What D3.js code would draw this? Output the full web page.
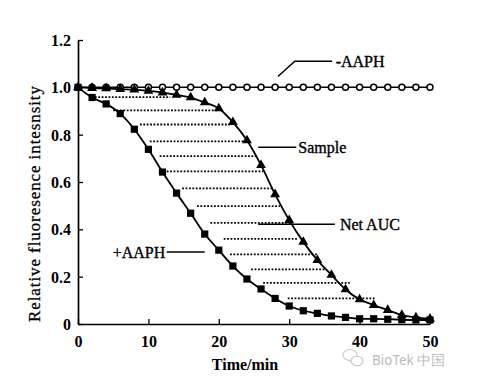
<!DOCTYPE html>
<html>
<head>
<meta charset="utf-8">
<script src="https://cdn.jsdelivr.net/npm/d3@7"></script>
<style>
  body { margin: 0; background: #fff; }
  text { font-family: "Liberation Serif", "Times New Roman", serif; fill: #000; }
</style>
</head>
<body>
<div id="chart"></div>
<script>
// time points, every 2 min
const times = d3.range(0, 51, 2)

// -AAPH : no decay
const noAaph = [1, 1, 1, 1, 1, 1, 1, 1, 1, 1, 1, 1, 1, 1, 1, 1, 1, 1, 1, 1, 1, 1, 1, 1, 1, 1]
// sample (triangles)
const sample = [1.0, 0.997, 0.995, 0.992, 0.99, 0.985, 0.978, 0.968, 0.957, 0.936, 0.911, 0.853, 0.776,
                0.671, 0.548, 0.439, 0.347, 0.27, 0.207, 0.146, 0.104, 0.08, 0.059, 0.038, 0.028, 0.022]
// +AAPH blank (squares)
const aaph = [1.0, 0.957, 0.93, 0.889, 0.823, 0.738, 0.642, 0.553, 0.468, 0.38, 0.312, 0.245, 0.19,
              0.148, 0.108, 0.076, 0.056, 0.045, 0.034, 0.028, 0.022, 0.022, 0.02, 0.018, 0.017, 0.017]

// dotted hatching of the net AUC: level, start and end (min)
const hatchLevel = [0.959, 0.903, 0.843, 0.772, 0.709, 0.645, 0.573, 0.498, 0.427, 0.36, 0.294, 0.231, 0.174, 0.108]
const hatchStart = [2.4, 5.0, 8.8, 10.2, 11.6, 12.6, 14.8, 16.9, 18.8, 20.7, 21.6, 24.6, 26.3, 29.8]
const hatchEnd = [13.1, 19.9, 21.6, 23.7, 25.6, 26.3, 27.7, 28.7, 30.4, 31.3, 34.1, 35.2, 38.6, 42.3]

const xTicks = [0, 10, 20, 30, 40, 50]
const yTicks = [0, 0.2, 0.4, 0.6, 0.8, 1.0, 1.2]

const width = 491
const height = 387

const x = d3.scaleLinear().domain([0, 50]).range([78, 430])
const y = d3.scaleLinear().domain([0, 1.2]).range([324, 40])

const svg = d3.select("#chart")
    .append("svg")
    .attr("width", width)
    .attr("height", height)

svg.append("rect").attr("width", width).attr("height", height).attr("fill", "#fff")

// hatching
svg.append("g")
    .selectAll("line")
    .data(hatchLevel)
    .join("line")
    .attr("x1", (d, i) => x(hatchStart[i]))
    .attr("x2", (d, i) => x(hatchEnd[i]))
    .attr("y1", d => y(d))
    .attr("y2", d => y(d))
    .attr("stroke", "#000")
    .attr("stroke-width", 1.8)
    .attr("stroke-dasharray", "1.8,1.6")

// axes
const xAxis = d3.axisBottom(x).tickValues(xTicks).tickSizeInner(-5).tickSizeOuter(0).tickPadding(12)
const yAxis = d3.axisLeft(y).tickValues(yTicks).tickSizeInner(-5).tickSizeOuter(0).tickPadding(7)
    .tickFormat(d => d === 0 ? "0" : d3.format(".1f")(d))

const gx = svg.append("g").attr("transform", "translate(0," + y(0) + ")").call(xAxis)
const gy = svg.append("g").attr("transform", "translate(" + x(0) + ",0)").call(yAxis)

;[gx, gy].forEach(g => {
    g.select(".domain").attr("stroke-width", 1.7)
    g.selectAll(".tick line").attr("stroke-width", 1.3)
    g.selectAll(".tick text")
        .attr("font-family", "Liberation Serif")
        .attr("font-size", 16)
        .attr("font-weight", "bold")
})
gy.selectAll(".tick text").attr("dy", "0.35em")

// curves
const line = d3.line()
    .x((d, i) => x(times[i]))
    .y(d => y(d))

svg.append("path").datum(noAaph)
    .attr("d", line)
    .attr("fill", "none").attr("stroke", "#000").attr("stroke-width", 1.5)

svg.append("path").datum(sample)
    .attr("d", line.curve(d3.curveMonotoneX))
    .attr("fill", "none").attr("stroke", "#000").attr("stroke-width", 1.8)

svg.append("path").datum(aaph)
    .attr("d", line.curve(d3.curveMonotoneX))
    .attr("fill", "none").attr("stroke", "#000").attr("stroke-width", 1.8)

// markers
svg.append("g")
    .selectAll("circle")
    .data(noAaph)
    .join("circle")
    .attr("cx", (d, i) => x(times[i]))
    .attr("cy", d => y(d))
    .attr("r", 3)
    .attr("fill", "#fff")
    .attr("stroke", "#000")
    .attr("stroke-width", 1.5)

svg.append("g")
    .selectAll("path")
    .data(sample)
    .join("path")
    .attr("transform", (d, i) => "translate(" + x(times[i]) + "," + y(d) + ")")
    .attr("d", d3.symbol(d3.symbolTriangle, 42))
    .attr("fill", "#000")

svg.append("g")
    .selectAll("rect")
    .data(aaph)
    .join("rect")
    .attr("x", (d, i) => x(times[i]) - 3.6)
    .attr("y", d => y(d) - 3.6)
    .attr("width", 7.2)
    .attr("height", 7.2)
    .attr("fill", "#000")

// annotations
const ann = svg.append("g").attr("font-size", 16)
    .attr("stroke", "#000").attr("stroke-width", 0.35)

ann.append("path")
    .attr("d", d3.line()([[x(28.4), y(1.046)], [x(30.8), y(1.11)], [x(36.1), y(1.11)]]))
    .attr("fill", "none").attr("stroke-width", 1.5)
ann.append("text").attr("x", x(36.6)).attr("y", y(1.11)).attr("dy", "0.35em").text("-AAPH")

ann.append("line")
    .attr("x1", x(25.6)).attr("x2", x(31.0)).attr("y1", y(0.747)).attr("y2", y(0.747))
    .attr("stroke-width", 1.5)
ann.append("text").attr("x", x(31.3)).attr("y", y(0.747)).attr("dy", "0.35em").text("Sample")

ann.append("line")
    .attr("x1", x(25.6)).attr("x2", x(36.5)).attr("y1", y(0.422)).attr("y2", y(0.422))
    .attr("stroke-width", 1.5)
ann.append("text").attr("x", x(37.2)).attr("y", y(0.422)).attr("dy", "0.35em").text("Net AUC")

ann.append("line")
    .attr("x1", x(12.6)).attr("x2", x(18.0)).attr("y1", y(0.304)).attr("y2", y(0.304))
    .attr("stroke-width", 1.5)
ann.append("text").attr("x", x(12.4)).attr("y", y(0.304)).attr("dy", "0.35em")
    .attr("text-anchor", "end").text("+AAPH")

// axis titles
svg.append("text")
    .attr("x", 245).attr("y", 370)
    .attr("text-anchor", "middle")
    .attr("font-size", 16).attr("font-weight", "bold")
    .text("Time/min")

svg.append("text")
    .attr("transform", "translate(40,204) rotate(-90)")
    .attr("text-anchor", "middle")
    .attr("font-size", 17)
    .attr("stroke", "#000").attr("stroke-width", 0.3)
    .attr("textLength", 236)
    .text("Relative fluoresence intesnsity")

// watermark
const wm = svg.append("g").attr("fill", "none").attr("stroke", "#c4c4c4").attr("stroke-width", 1.1)
wm.append("ellipse").attr("cx", 350).attr("cy", 355).attr("rx", 7).attr("ry", 5.5)
wm.append("ellipse").attr("cx", 357).attr("cy", 361).attr("rx", 6).attr("ry", 4.8).attr("fill", "#fff")
svg.append("text")
    .attr("x", 372).attr("y", 365)
    .style("font-family", "'Noto Sans', sans-serif")
    .attr("font-size", 13.5)
    .style("fill", "#bcbcbc")
    .text("BioTek 中国")
</script>
</body>
</html>
